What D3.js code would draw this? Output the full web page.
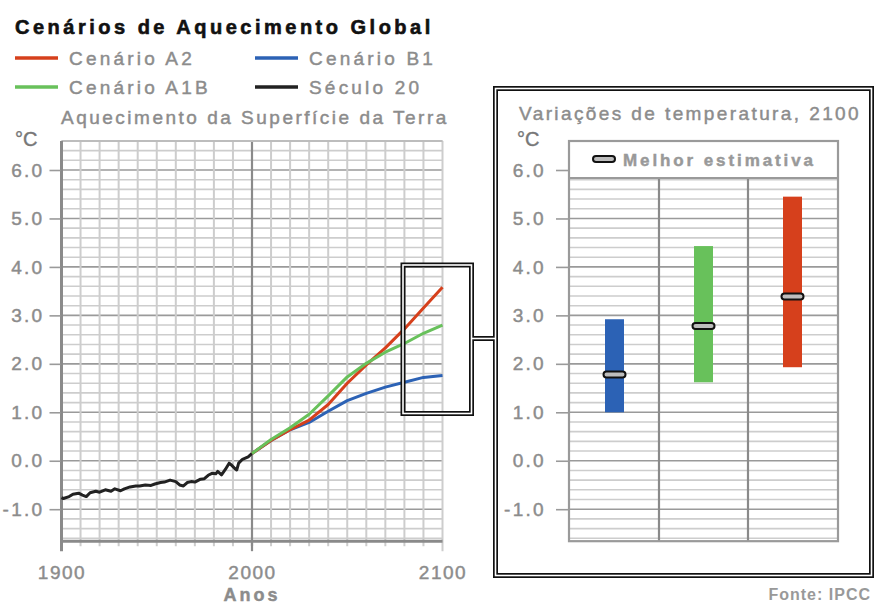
<!DOCTYPE html>
<html>
<head>
<meta charset="utf-8">
<script src="https://cdn.jsdelivr.net/npm/d3@7"></script>
<style>
  body { margin: 0; background: #fff; }
  text { font-family: "Liberation Sans", Arial, sans-serif; }
</style>
</head>
<body>
<script>
// ---- data ----
var histYears = [1900, 1901, 1904, 1906, 1909, 1911, 1913, 1915, 1918, 1920, 1923, 1926, 1928, 1931, 1933, 1936, 1939, 1941, 1944, 1947, 1949, 1952, 1954, 1957, 1960, 1962, 1964, 1966, 1968, 1970, 1973, 1975, 1977, 1979, 1981, 1982, 1984, 1986, 1988, 1989, 1991, 1992, 1993, 1995, 1998, 2000];
var histTemp  = [-0.76, -0.78, -0.74, -0.69, -0.67, -0.71, -0.74, -0.66, -0.63, -0.65, -0.60, -0.63, -0.58, -0.62, -0.58, -0.54, -0.52, -0.52, -0.50, -0.51, -0.48, -0.45, -0.44, -0.40, -0.43, -0.50, -0.52, -0.45, -0.43, -0.44, -0.38, -0.37, -0.30, -0.26, -0.27, -0.22, -0.29, -0.18, -0.05, -0.08, -0.16, -0.19, -0.05, 0.03, 0.08, 0.15];

var scenYears = [2000, 2010, 2020, 2030, 2040, 2050, 2060, 2070, 2080, 2090, 2100];
var tempA2  = [0.15, 0.42, 0.64, 0.84, 1.16, 1.60, 1.98, 2.33, 2.72, 3.15, 3.58];
var tempA1B = [0.15, 0.44, 0.68, 0.96, 1.34, 1.73, 2.01, 2.24, 2.42, 2.63, 2.80];
var tempB1  = [0.15, 0.42, 0.64, 0.79, 1.02, 1.24, 1.39, 1.52, 1.62, 1.72, 1.76];

var rangeNames = ["B1", "A1B", "A2"];
var rangeLow   = [1.0, 1.62, 1.93];
var rangeHigh  = [2.92, 4.43, 5.45];
var rangeBest  = [1.78, 2.78, 3.39];

var yTicks = [-1, 0, 1, 2, 3, 4, 5, 6];
var xTickLabels = [1900, 2000, 2100];

var colors = { A2: "#d6401c", A1B: "#68c15b", B1: "#2c62b5", hist: "#222" };
var grey = "#8c8c8c";

var svg = d3.select("body").append("svg")
    .attr("width", 874)
    .attr("height", 605);

// gray text helper - slightly heavier than regular like the picture
function greyText(sel, size, spacing) {
    return sel.attr("font-size", size)
        .attr("fill", grey)
        .attr("stroke", grey).attr("stroke-width", 0.45)
        .attr("letter-spacing", spacing);
}

// shared y scale
var y = d3.scaleLinear().domain([-1, 6]).range([509.2, 170]);
var yTop = y(6.6), yBot = y(-1.66);

// ================= left chart =================
var x = d3.scaleLinear().domain([1900, 2100]).range([61.5, 442.5]);

var left = svg.append("g");

// minor horizontal grid
left.selectAll(".hminor")
    .data(d3.range(-16, 67, 2).map(d => d / 10))
    .enter().append("line")
    .attr("x1", x(1900)).attr("x2", x(2100))
    .attr("y1", d => y(d)).attr("y2", d => y(d))
    .attr("stroke", d => Math.abs(d - Math.round(d)) < 1e-6 ? "#9a9a9a" : "#cdcdcd")
    .attr("stroke-width", 1.6);

// vertical grid
left.selectAll(".vgrid")
    .data(d3.range(1910, 2100, 10))
    .enter().append("line")
    .attr("x1", d => x(d)).attr("x2", d => x(d))
    .attr("y1", yTop).attr("y2", yBot + 5)
    .attr("stroke", d => d === 2000 ? "#8a8a8a" : "#cdcdcd")
    .attr("stroke-width", d => d === 2000 ? 2.2 : 2);

left.append("line")
    .attr("x1", x(2000)).attr("x2", x(2000))
    .attr("y1", yBot).attr("y2", yBot + 10)
    .attr("stroke", "#8a8a8a").attr("stroke-width", 2.2);

left.append("line")
    .attr("x1", x(2100)).attr("x2", x(2100))
    .attr("y1", yTop).attr("y2", yBot + 10)
    .attr("stroke", "#cdcdcd").attr("stroke-width", 2);

// top border
left.append("line")
    .attr("x1", x(1900)).attr("x2", x(2100))
    .attr("y1", yTop).attr("y2", yTop)
    .attr("stroke", "#bdbdbd").attr("stroke-width", 2);

// left axis line + bottom axis line
left.append("line")
    .attr("x1", x(1900)).attr("x2", x(1900))
    .attr("y1", yTop).attr("y2", yBot + 10)
    .attr("stroke", "#8a8a8a").attr("stroke-width", 3);
left.append("line")
    .attr("x1", x(1900)).attr("x2", x(2100))
    .attr("y1", yBot).attr("y2", yBot)
    .attr("stroke", "#8a8a8a").attr("stroke-width", 3);

// y axis
var leftAxis = d3.axisLeft(y).tickValues(yTicks).tickSize(11).tickPadding(5)
    .tickFormat(d => d.toFixed(1));
var gy = left.append("g").attr("transform", `translate(${x(1900) - 1},0)`).call(leftAxis);
gy.select(".domain").remove();
gy.selectAll("line").attr("stroke", "#9a9a9a").attr("stroke-width", 1.6);
greyText(gy.selectAll("text"), 19, 2.3)
    .style("font-family", "Liberation Sans, Arial, sans-serif");

// x axis labels
var bottomAxis = d3.axisBottom(x).tickValues(xTickLabels).tickSize(0).tickPadding(24)
    .tickFormat(d3.format("d"));
var gx = left.append("g").attr("transform", `translate(0,${yBot})`).call(bottomAxis);
gx.select(".domain").remove();
greyText(gx.selectAll("text"), 19, 1.5)
    .style("font-family", "Liberation Sans, Arial, sans-serif");

greyText(left.append("text"), 18, 3)
    .attr("x", x(2000)).attr("y", 601)
    .attr("text-anchor", "middle")
    .attr("font-weight", "bold")
    .text("Anos");

// lines
var line = d3.line().x(d => x(d[0])).y(d => y(d[1]));
var histData = d3.zip(histYears, histTemp);

left.append("path")
    .datum(histData)
    .attr("d", line)
    .attr("fill", "none").attr("stroke", colors.hist).attr("stroke-width", 3)
    .attr("stroke-linejoin", "round");

[["B1", tempB1], ["A2", tempA2], ["A1B", tempA1B]].forEach(function (s) {
    left.append("path")
        .datum(d3.zip(scenYears, s[1]))
        .attr("d", line)
        .attr("fill", "none").attr("stroke", colors[s[0]]).attr("stroke-width", 3)
        .attr("stroke-linejoin", "round");
});

// titles and legend
svg.append("text")
    .attr("x", 15).attr("y", 34)
    .attr("font-size", 20).attr("font-weight", "bold").attr("fill", "#111")
    .attr("stroke", "#111").attr("stroke-width", 0.6)
    .attr("letter-spacing", 3.5)
    .text("Cenários de Aquecimento Global");

var legendItems = [
    { label: "Cenário A2", color: colors.A2, lx: 15, ly: 58 },
    { label: "Cenário B1", color: colors.B1, lx: 255, ly: 58 },
    { label: "Cenário A1B", color: colors.A1B, lx: 15, ly: 87 },
    { label: "Século 20", color: colors.hist, lx: 255, ly: 87 }
];
legendItems.forEach(function (d) {
    svg.append("line")
        .attr("x1", d.lx).attr("x2", d.lx + 43)
        .attr("y1", d.ly).attr("y2", d.ly)
        .attr("stroke", d.color).attr("stroke-width", 3.5);
    greyText(svg.append("text"), 19, 3.2)
        .attr("x", d.lx + 54).attr("y", d.ly + 7)
        .text(d.label);
});

greyText(svg.append("text"), 19, 2.5)
    .attr("x", 61).attr("y", 124)
    .text("Aquecimento da Superfície da Terra");

svg.append("text")
    .attr("x", 15).attr("y", 146)
    .attr("font-size", 20).attr("fill", "#777").attr("stroke", "#777").attr("stroke-width", 0.4)
    .text("°C");

// ================= zoom boxes =================
var boxes = svg.append("g");
var boxShapes = [
    { x: 403, y: 265, w: 68.5, h: 148.5 },
    { x: 495.5, y: 88.5, w: 376, h: 487 }
];
var connector = "M471.5,338.5 L495.5,338.5";

["#111", "#fff"].forEach(function (col, i) {
    var w = i === 0 ? 5 : 1.6;
    boxShapes.forEach(function (b) {
        boxes.append("rect")
            .attr("x", b.x).attr("y", b.y).attr("width", b.w).attr("height", b.h)
            .attr("fill", i === 0 && b.x > 490 ? "#fff" : "none")
            .attr("stroke", col).attr("stroke-width", w);
    });
    boxes.append("path").attr("d", connector)
        .attr("stroke", col).attr("stroke-width", w);
});

// ================= right chart =================
var right = svg.append("g");
var xb = d3.scaleBand().domain(rangeNames).range([570, 837]);
var plotTop = 178;

// minor grid
right.selectAll(".hminor")
    .data(d3.range(-16, 59, 2).map(d => d / 10))
    .enter().append("line")
    .attr("x1", 570).attr("x2", 837)
    .attr("y1", d => y(d)).attr("y2", d => y(d))
    .attr("stroke", d => Math.abs(d - Math.round(d)) < 1e-6 ? "#9a9a9a" : "#cdcdcd")
    .attr("stroke-width", 1.6);

// column separators
right.selectAll(".sep")
    .data(rangeNames.slice(1))
    .enter().append("line")
    .attr("x1", d => xb(d)).attr("x2", d => xb(d))
    .attr("y1", plotTop).attr("y2", yBot)
    .attr("stroke", "#8a8a8a").attr("stroke-width", 2.2);

// plot border + legend box
right.append("rect")
    .attr("x", 569).attr("y", 141).attr("width", 269).attr("height", yBot - 141)
    .attr("fill", "none").attr("stroke", "#9a9a9a").attr("stroke-width", 2.2);
right.append("line")
    .attr("x1", 569).attr("x2", 838).attr("y1", plotTop).attr("y2", plotTop)
    .attr("stroke", "#9a9a9a").attr("stroke-width", 2.2);

// y axis
var rightAxis = d3.axisLeft(y).tickValues(yTicks).tickSize(13).tickPadding(10)
    .tickFormat(d => d.toFixed(1));
var gyr = right.append("g").attr("transform", "translate(569,0)").call(rightAxis);
gyr.select(".domain").remove();
gyr.selectAll("line").attr("stroke", "#9a9a9a").attr("stroke-width", 1.6);
greyText(gyr.selectAll("text"), 19, 2.3)
    .style("font-family", "Liberation Sans, Arial, sans-serif");

// range bars
var barW = 19;
right.selectAll(".bar")
    .data(rangeNames)
    .enter().append("rect")
    .attr("x", d => xb(d) + xb.bandwidth() / 2 - barW / 2)
    .attr("width", barW)
    .attr("y", (d, i) => y(rangeHigh[i]))
    .attr("height", (d, i) => y(rangeLow[i]) - y(rangeHigh[i]))
    .attr("fill", d => colors[d]);

// best estimates
right.selectAll(".best")
    .data(rangeNames)
    .enter().append("rect")
    .attr("x", d => xb(d) + xb.bandwidth() / 2 - 11)
    .attr("y", (d, i) => y(rangeBest[i]) - 3)
    .attr("width", 22).attr("height", 6).attr("rx", 3)
    .attr("fill", "#bdbdbd").attr("stroke", "#111").attr("stroke-width", 2);

// legend for best estimate
right.append("rect")
    .attr("x", 593).attr("y", 156).attr("width", 22).attr("height", 6).attr("rx", 3)
    .attr("fill", "#bdbdbd").attr("stroke", "#111").attr("stroke-width", 2);
greyText(right.append("text"), 17, 2.9)
    .attr("x", 623).attr("y", 166)
    .attr("font-weight", "bold").attr("fill", "#999").attr("stroke", "#999")
    .text("Melhor estimativa");

greyText(right.append("text"), 19, 2.4)
    .attr("x", 519).attr("y", 120)
    .text("Variações de temperatura, 2100");
right.append("text")
    .attr("x", 517).attr("y", 146)
    .attr("font-size", 20).attr("fill", "#777").attr("stroke", "#777").attr("stroke-width", 0.4)
    .text("°C");

svg.append("text")
    .attr("x", 871).attr("y", 600)
    .attr("text-anchor", "end")
    .attr("font-size", 16).attr("font-weight", "bold").attr("fill", "#999").attr("letter-spacing", 1)
    .text("Fonte: IPCC");
</script>
</body>
</html>
